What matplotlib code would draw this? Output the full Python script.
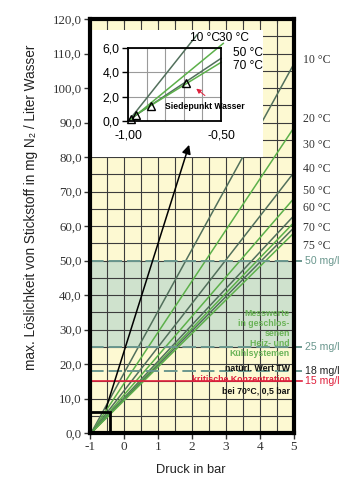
import matplotlib
matplotlib.use("Agg")
import matplotlib.pyplot as plt
from matplotlib.patches import Rectangle
from matplotlib.ticker import MultipleLocator

# main chart: solubility lines, start near -1 bar, end at 5 bar
temps = ["10 °C", "20 °C", "30 °C", "40 °C", "50 °C", "60 °C", "70 °C", "75 °C"]
line_x = [-0.97, 5.0]
end_y = [107.0, 88.5, 75.5, 68.0, 63.0, 61.0, 59.5, 58.0]
temp_label_y = [108, 91, 83.5, 76.5, 70, 65.3, 59.3, 54.3]

levels = [50, 25, 18, 15]
level_labels = ["50 mg/l", "25 mg/l", "18 mg/l", "15 mg/l"]

yticks = list(range(0, 121, 10))
ytick_labels = ["0,0", "10,0", "20,0", "30,0", "40,0", "50,0", "60,0",
                "70,0", "80,0", "90,0", "100,0", "110,0", "120,0"]
xticks = [-1, 0, 1, 2, 3, 4, 5]
xtick_labels = ["-1", "0", "1", "2", "3", "4", "5"]

# inset: zoom on -1 .. -0.5 bar
inset_temps = ["10 °C", "30 °C", "50 °C", "70 °C"]
inset_x0 = [-0.998, -0.989, -0.971, -0.962]
inset_y0 = [0.0, 0.08, 0.35, 0.49]
inset_x1 = [-0.63, -0.488, -0.5, -0.5]
inset_y1 = [7.07, 6.38, 5.15, 4.82]
boil_x = [-0.984, -0.957, -0.876, -0.69]
boil_y = [0.14, 0.49, 1.26, 3.1]

dark = "#52705c"
green = "#5cb04a"
teal = "#6a978e"
red = "#e0203c"
serif = ["Liberation Serif", "DejaVu Serif"]
sans = ["Liberation Sans", "DejaVu Sans"]

fig = plt.figure(figsize=(3.52, 5.0), dpi=100)
ax = fig.add_axes([0.256, 0.134, 0.579, 0.828])
ax.set_facecolor("#fdf9d2")
ax.set_xlim(-1, 5)
ax.set_ylim(0, 120)

ax.axhspan(25, 50, color="#cfe2cd", zorder=0.5, lw=0)
ax.xaxis.set_minor_locator(MultipleLocator(0.5))
ax.yaxis.set_minor_locator(MultipleLocator(5))
ax.grid(which="both", color="#3c3c3c", lw=0.8, zorder=1)
ax.set_axisbelow(True)

for i, t in enumerate(temps):
    c = dark if i % 2 == 0 else green
    ax.plot(line_x, [0, end_y[i]], color=c, lw=1.1, zorder=2)
    fig.text(0.862, 1 - (433 - temp_label_y[i] * 3.45) / 500, t,
             family=serif, fontsize=8.5, color="#333333", va="center")

# level lines reaching out of the plot to their labels
dash = (0, (7, 2.5))
ax.plot([-1, 5.25], [levels[0]] * 2, color=teal, lw=1.4, ls=dash, clip_on=False, zorder=2)
ax.plot([-1, 5.25], [levels[1]] * 2, color=teal, lw=1.4, ls=dash, clip_on=False, zorder=2)
ax.plot([-1, 5.25], [levels[2]] * 2, color=teal, lw=1.4, ls=dash, clip_on=False, zorder=2)
ax.plot([-1, 5.25], [levels[3]] * 2, color=red, lw=1.2, clip_on=False, zorder=2)
lab_col = [teal, teal, "#222222", red]
for lv, lab, c in zip(levels, level_labels, lab_col):
    ax.text(5.33, lv, lab, family=sans, fontsize=7.6, color=c, va="center", clip_on=False)

# texts inside
ax.text(4.88, 36, "Messwerte\nin geschlos-\nsenen\nHeiz- und\nKühlsystemen",
        ha="right", va="top", multialignment="right", family=sans, fontsize=6.3,
        fontweight="bold", color="#6ab357", linespacing=1.15, zorder=4)
ax.text(4.88, 18.6, "natürl. Wert TW", ha="right", va="center", family=sans,
        fontsize=6.3, fontweight="bold", color="#111111", zorder=4)
ax.text(4.88, 15.4, "kritische Konzentration", ha="right", va="center", family=sans,
        fontsize=6.3, fontweight="bold", color=red, zorder=4)
ax.text(4.88, 12.3, "bei 70°C, 0,5 bar", ha="right", va="center", family=sans,
        fontsize=6.3, fontweight="bold", color="#111111", zorder=4)

# white box behind the inset
ax.add_patch(Rectangle((-0.97, 80), 5.05, 36.8, facecolor="white", lw=0, zorder=3))
# zoom box and arrow
ax.add_patch(Rectangle((-1, 0), 0.58, 6.2, fill=False, ec="black", lw=2, zorder=5, clip_on=False))
ax.annotate("", xy=(1.94, 84.3), xytext=(-0.56, 6.2),
            arrowprops=dict(arrowstyle="-|>", color="black", lw=1.1, mutation_scale=13),
            zorder=5)

ax.set_xticks(xticks)
ax.set_xticklabels(xtick_labels, family=serif, fontsize=9.5, color="#333333")
ax.set_yticks(yticks)
ax.set_yticklabels(ytick_labels, family=serif, fontsize=9.3, color="#333333")
ax.tick_params(which="major", direction="out", length=4, width=1, color="#333333", pad=2)
ax.tick_params(which="minor", length=0)
for s in ax.spines.values():
    s.set_linewidth(3)
    s.set_color("black")
    s.set_zorder(6)

top = ax.secondary_xaxis("top")
top.set_xticks([-0.5, 0, 0.5, 1, 1.5, 2, 2.5, 3, 3.5, 4, 4.5])
top.tick_params(direction="in", length=3, width=0.8, labeltop=False)

fig.text(0.088, 0.586, "max. Löslichkeit von Stickstoff in mg N₂ / Liter Wasser",
         rotation=90, ha="center", va="center", family=sans, fontsize=9.8, color="#222222")
fig.text(0.543, 0.06, "Druck in bar", ha="center", va="center", family=sans,
         fontsize=9.3, color="#222222")

# inset
ai = fig.add_axes([0.364, 0.758, 0.264, 0.146])
ai.set_facecolor("white")
ai.set_xlim(-1.0, -0.5)
ai.set_ylim(0, 6)
ai.xaxis.set_minor_locator(MultipleLocator(0.1))
ai.grid(which="both", color="#9a9a9a", lw=0.8)
ai.set_axisbelow(True)
for i in range(len(inset_temps)):
    c = dark if i % 2 == 0 else green
    ai.plot([inset_x0[i], inset_x1[i]], [inset_y0[i], inset_y1[i]], color=c, lw=1.1, clip_on=False)
ai.plot(boil_x, boil_y, ls="none", marker="^", ms=6, mfc="none", mec="black", mew=1, clip_on=False)
ai.text(-0.667, 6.8, inset_temps[0], family=sans, fontsize=8.6, va="center")
ai.text(-0.51, 6.8, inset_temps[1], family=sans, fontsize=8.6, va="center")
ai.text(-0.435, 5.6, inset_temps[2], family=sans, fontsize=8.6, va="center")
ai.text(-0.435, 4.5, inset_temps[3], family=sans, fontsize=8.6, va="center")
ai.text(-0.80, 1.2, "Siedepunkt Wasser", family=sans, fontsize=6.2, fontweight="bold", va="center")
ai.annotate("", xy=(-0.645, 2.8), xytext=(-0.575, 1.95),
            arrowprops=dict(arrowstyle="-|>", color=red, lw=0.7, mutation_scale=7))
ai.set_xticks([-1.0, -0.5])
ai.set_xticklabels(["-1,00", "-0,50"], family=sans, fontsize=8.8)
ai.set_yticks([0, 2, 4, 6])
ai.set_yticklabels(["0,0", "2,0", "4,0", "6,0"], family=sans, fontsize=8.8)
ai.tick_params(axis="y", length=4, width=1, pad=2)
ai.tick_params(axis="x", length=0, pad=6)
ai.tick_params(which="minor", length=0)
for s in ai.spines.values():
    s.set_linewidth(1.3)

fig.savefig("out.png", dpi=100)
